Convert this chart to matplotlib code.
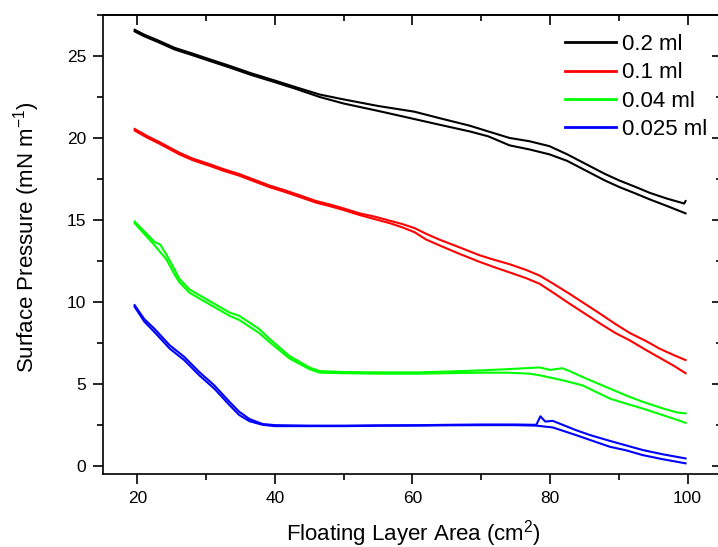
import matplotlib
matplotlib.use("Agg")
import matplotlib.pyplot as plt
from matplotlib.ticker import MultipleLocator

plt.rcParams["font.family"] = ["Liberation Sans", "DejaVu Sans"]
plt.rcParams["mathtext.default"] = "regular"

# Surface pressure isotherms: compression / expansion branches for each volume
labels = ["0.2 ml", "0.1 ml", "0.04 ml", "0.025 ml"]
colors = ["#000000", "#ff0000", "#00ff00", "#0000ff"]

# 0.2 ml
area_02_up = [19.6, 21, 23, 25.4, 28, 30.5, 33.4, 36.5, 40, 43, 46.5, 50, 55, 60.3, 64, 68.3, 71, 74.1, 77,
              79.9, 82.5, 85.7, 88, 90.1, 92.5, 94.5, 97, 99.5, 99.7]
pres_02_up = [26.6, 26.3, 25.95, 25.5, 25.15, 24.8, 24.4, 23.95, 23.5, 23.1, 22.65, 22.35, 21.95, 21.6, 21.2,
              20.75, 20.4, 20.0, 19.8, 19.5, 19.0, 18.3, 17.8, 17.4, 17.0, 16.65, 16.3, 16.0, 16.15]
area_02_dn = [19.6, 21, 23, 25.4, 28, 30.5, 33.4, 36.5, 40, 43, 46.5, 50, 55, 60.3, 64, 68.3, 71, 74.1, 77,
              79.9, 82.5, 85.7, 88, 90.1, 92.5, 94.5, 97, 99.7]
pres_02_dn = [26.5, 26.2, 25.85, 25.4, 25.05, 24.7, 24.3, 23.85, 23.4, 23.0, 22.5, 22.1, 21.65, 21.15, 20.8,
              20.4, 20.1, 19.55, 19.3, 19.0, 18.6, 17.9, 17.4, 17.0, 16.6, 16.25, 15.85, 15.4]

# 0.1 ml
area_01_up = [19.6, 21.5, 23.2, 26.1, 28, 30.5, 32.5, 34.8, 37, 39.2, 41.5, 43.6, 46, 47.9, 50, 52.3, 54.5,
              56.7, 58.5, 60.3, 62, 63.9, 67, 69.7, 72, 74.1, 76.5, 78.5, 80.5, 82.8, 85, 87.2, 89.5, 91.6,
              94, 95.9, 98, 99.7]
pres_01_up = [20.55, 20.1, 19.75, 19.1, 18.75, 18.4, 18.1, 17.8, 17.45, 17.1, 16.8, 16.5, 16.15, 15.95, 15.7,
              15.4, 15.2, 14.95, 14.75, 14.5, 14.15, 13.8, 13.3, 12.85, 12.55, 12.3, 11.95, 11.6, 11.1, 10.5,
              9.9, 9.3, 8.65, 8.1, 7.6, 7.15, 6.75, 6.45]
area_01_dn = [19.6, 21.5, 23.2, 26.1, 28, 30.5, 32.5, 34.8, 37, 39.2, 41.5, 43.6, 46, 47.9, 50, 52.3, 54.5,
              56.7, 58.5, 60.3, 62, 63.9, 67, 69.7, 72, 74.1, 76.5, 78.5, 80.5, 82.8, 85, 87.2, 89.5, 91.6,
              94, 95.9, 98, 99.7]
pres_01_dn = [20.45, 20.0, 19.65, 19.0, 18.65, 18.3, 18.0, 17.7, 17.35, 17.0, 16.7, 16.4, 16.05, 15.85, 15.6,
              15.3, 15.05, 14.8, 14.55, 14.25, 13.8, 13.45, 12.9, 12.45, 12.1, 11.8, 11.45, 11.1, 10.55, 9.9,
              9.3, 8.7, 8.1, 7.65, 7.05, 6.6, 6.1, 5.65]

# 0.04 ml
area_004_up = [19.6, 21, 22.5, 23.3, 24.2, 25.5, 26.1, 27.6, 30.5, 33.4, 34.8, 37.7, 39.2, 42.1, 45, 46.5, 50,
               55, 61, 65, 70, 74, 78.5, 80, 81.8, 83, 84.7, 88.7, 91, 93.5, 96.4, 98.5, 99.7]
pres_004_up = [14.9, 14.3, 13.65, 13.5, 12.9, 11.9, 11.4, 10.75, 10.05, 9.35, 9.15, 8.35, 7.75, 6.7, 6.0, 5.78,
               5.72, 5.7, 5.7, 5.75, 5.82, 5.9, 6.0, 5.85, 5.95, 5.75, 5.42, 4.71, 4.3, 3.9, 3.5, 3.25, 3.2]
area_004_dn = [19.6, 21, 22.5, 24.2, 25.5, 26.1, 27.6, 30.5, 33.4, 34.8, 37.7, 39.2, 42.1, 45, 46.5, 50, 55,
               61, 65, 70, 74, 77, 78.5, 81.8, 84.7, 88.7, 91, 93.5, 96.4, 98.5, 99.7]
pres_004_dn = [14.8, 14.15, 13.45, 12.6, 11.6, 11.2, 10.55, 9.85, 9.15, 8.9, 8.1, 7.55, 6.55, 5.9, 5.68, 5.65,
               5.62, 5.62, 5.65, 5.68, 5.68, 5.62, 5.52, 5.22, 4.91, 4.1, 3.8, 3.49, 3.09, 2.8, 2.62]

# 0.025 ml
area_0025_up = [19.6, 21, 22.5, 24.7, 26.8, 29, 31.2, 33.4, 34.8, 36.3, 38.2, 40, 45, 50, 55, 61, 65, 70, 75,
                78, 78.6, 79.3, 80.4, 83.8, 86, 88.7, 91, 93.5, 96.4, 99.7]
pres_0025_up = [9.8, 8.95, 8.35, 7.35, 6.65, 5.72, 4.9, 3.9, 3.3, 2.85, 2.55, 2.48, 2.45, 2.45, 2.47, 2.48, 2.5,
                2.52, 2.52, 2.5, 3.02, 2.7, 2.74, 2.17, 1.85, 1.52, 1.25, 0.96, 0.7, 0.45]
area_0025_dn = [19.6, 21, 22.5, 24.7, 26.8, 29, 31.2, 33.4, 34.8, 36.3, 38.2, 40, 45, 50, 55, 61, 65, 70, 75,
                78, 80.4, 83.8, 86, 88.7, 91, 93.5, 96.4, 99.7]
pres_0025_dn = [9.7, 8.8, 8.15, 7.15, 6.45, 5.52, 4.7, 3.7, 3.1, 2.72, 2.5, 2.42, 2.42, 2.42, 2.44, 2.45, 2.47,
                2.48, 2.48, 2.45, 2.34, 1.87, 1.55, 1.16, 0.95, 0.65, 0.4, 0.15]

branches = [
    ((area_02_up, pres_02_up), (area_02_dn, pres_02_dn)),
    ((area_01_up, pres_01_up), (area_01_dn, pres_01_dn)),
    ((area_004_up, pres_004_up), (area_004_dn, pres_004_dn)),
    ((area_0025_up, pres_0025_up), (area_0025_dn, pres_0025_dn)),
]

W, H = 718, 547
fig = plt.figure(figsize=(W / 100, H / 100), dpi=100)
ax = fig.add_axes([103 / W, 73 / H, (722 - 103) / W, (474 - 15) / H])

for (up, dn), color, label in zip(branches, colors, labels):
    ax.plot(up[0], up[1], color=color, lw=1.5, label=label)
    ax.plot(dn[0], dn[1], color=color, lw=1.5)

ax.set_xlim(15, 105)
ax.set_ylim(-0.5, 27.5)

for s in ax.spines.values():
    s.set_linewidth(1.2)

ax.xaxis.set_major_locator(MultipleLocator(20))
ax.xaxis.set_minor_locator(MultipleLocator(10))
ax.yaxis.set_major_locator(MultipleLocator(5))
ax.yaxis.set_minor_locator(MultipleLocator(2.5))
ax.tick_params(which="major", direction="out", length=7, width=1.2, labelsize=12.5, pad=5)
ax.tick_params(which="minor", direction="out", length=4, width=1.2)

# mirrored ticks on top and right, pointing inward
top = ax.secondary_xaxis("top")
top.xaxis.set_major_locator(MultipleLocator(20))
top.xaxis.set_minor_locator(MultipleLocator(10))
top.tick_params(which="major", direction="in", length=7, width=1.2, labeltop=False)
top.tick_params(which="minor", direction="in", length=4, width=1.2)
top.spines["top"].set_linewidth(1.2)

right = ax.secondary_yaxis("right")
right.yaxis.set_major_locator(MultipleLocator(5))
right.yaxis.set_minor_locator(MultipleLocator(2.5))
right.tick_params(which="major", direction="in", length=7, width=1.2, labelright=False)
right.tick_params(which="minor", direction="in", length=4, width=1.2)

ax.set_xlabel("Floating Layer Area (cm$^2$)", fontsize=16)
ax.set_ylabel("Surface Pressure (mN m$^{-1}$)", fontsize=16)
ax.xaxis.set_label_coords(0.502, -0.095)
ax.yaxis.set_label_coords(-0.098, 0.516)

leg = ax.legend(loc="upper left", bbox_to_anchor=(565 / W, 1 - 34 / H), bbox_transform=fig.transFigure,
                frameon=False, fontsize=16, handlelength=2.3, handletextpad=0.28, labelspacing=0.33,
                borderpad=0, borderaxespad=0)
for h in leg.get_lines():
    h.set_linewidth(2)

fig.savefig("out.png", dpi=100)
